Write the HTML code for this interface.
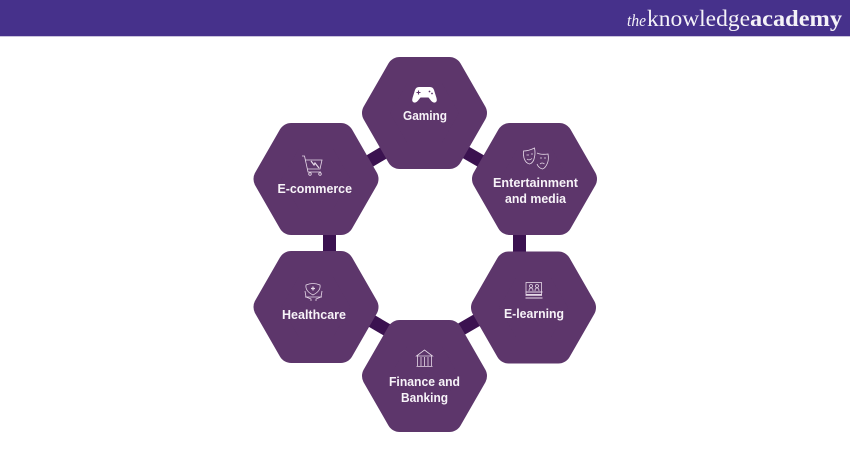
<!DOCTYPE html>
<html>
<head>
<meta charset="utf-8">
<style>
html,body{margin:0;padding:0;background:#fff;width:850px;height:450px;overflow:hidden}
svg{display:block}
.t{font-family:"Liberation Sans",sans-serif;font-weight:700;font-size:12.5px;fill:#f7f3f8}
.l{font-family:"Liberation Serif",serif;fill:#f4f2f8}
.i{fill:none;stroke:#e6d9e8;stroke-width:.8}
</style>
</head>
<body>
<svg width="850" height="450" viewBox="0 0 850 450" xmlns="http://www.w3.org/2000/svg">
<defs>
<polygon id="hex" points="-49.5,0 -24.8,-43 24.8,-43 49.5,0 24.8,43 -24.8,43" fill="#5d366b" stroke="#5d366b" stroke-width="26" stroke-linejoin="round"/>
</defs>
<rect x="0" y="0" width="850" height="36" fill="#46318b"/>
<rect x="0" y="36" width="850" height="1" fill="#c9c3dc"/>
<text class="l" x="627" y="26" font-size="17" font-style="italic" textLength="19" lengthAdjust="spacingAndGlyphs">the</text>
<text class="l" x="647" y="26" font-size="23" textLength="103" lengthAdjust="spacingAndGlyphs">knowledge</text>
<text class="l" x="750" y="26" font-size="23" font-weight="700" textLength="92" lengthAdjust="spacingAndGlyphs">academy</text>

<g stroke="#3b1250" stroke-width="13">
<line x1="460" y1="149" x2="486" y2="164"/>
<line x1="363" y1="165" x2="390" y2="149"/>
<line x1="329.500" y1="230" x2="329.500" y2="255"/>
<line x1="519.500" y1="230" x2="519.500" y2="256"/>
<line x1="365" y1="317" x2="394" y2="334"/>
<line x1="453" y1="334" x2="484" y2="316"/>
</g>

<use href="#hex" x="424.500" y="113"/>
<use href="#hex" x="316" y="179"/>
<use href="#hex" x="534.500" y="179"/>
<use href="#hex" x="316" y="307"/>
<use href="#hex" x="533.500" y="307.500"/>
<use href="#hex" x="424.500" y="376"/>

<text class="t" x="403" y="120" textLength="44" lengthAdjust="spacingAndGlyphs">Gaming</text>
<text class="t" x="277.500" y="193" textLength="74.500" lengthAdjust="spacingAndGlyphs">E-commerce</text>
<text class="t" x="493" y="187" textLength="85" lengthAdjust="spacingAndGlyphs">Entertainment</text>
<text class="t" x="505" y="203" textLength="61" lengthAdjust="spacingAndGlyphs">and media</text>
<text class="t" x="282" y="319" textLength="64" lengthAdjust="spacingAndGlyphs">Healthcare</text>
<text class="t" x="504" y="318" textLength="60" lengthAdjust="spacingAndGlyphs">E-learning</text>
<text class="t" x="389" y="386" textLength="71" lengthAdjust="spacingAndGlyphs">Finance and</text>
<text class="t" x="401" y="402" textLength="47" lengthAdjust="spacingAndGlyphs">Banking</text>

<!-- gamepad -->
<path d="M419 87h11q3 0 4 3l2.500 8q1 4-1.500 4.500t-4.500-2.500l-2-2.500h-8l-2 2.500q-2 3-4.500 2.500t-1.500-4.500l2.500-8q1-3 4-3z" fill="#fff"/>
<path d="M418.500 90.500v4M416.500 92.500h4" stroke="#5d366b" stroke-width="1.100"/>
<circle cx="429.500" cy="91.500" r=".9" fill="#5d366b"/><circle cx="432" cy="93.500" r=".9" fill="#5d366b"/>

<!-- cart -->
<g class="i">
<path d="M302 156h2.500l3.500 16h13"/>
<path d="M305 160h17l-2 9h-13"/>
<path d="M311 161l3 4 1-2 4 5" stroke-width="1.200"/>
<circle cx="310" cy="174" r="1.300"/><circle cx="320" cy="174" r="1.300"/>
</g>

<!-- masks -->
<g class="i">
<path d="M523.500 151q5 0 11-3q1 5 0 9q-1 6-5 7q-4-1-5.500-6q-.8-3-.5-7z"/>
<path d="M537 153q4 2 11 1q1 5-.5 9q-2 5-5 6q-4-1-5.500-5"/>
<path d="M526.500 155h2.500M531 154h2M527 159q2 2 5-.5M540 158h2M544 158h2M540 164q2-2 4.500 0"/>
</g>

<!-- healthcare -->
<g class="i">
<path d="M306 285q7-3 14 0q1 6-7 10q-8-4-7-10z"/>
<path d="M305 291l1 6 5 2v2M322 291l-1 6-5 2v2M305 297h17"/>
<path d="M313 286.500v4M311 288.500h4" stroke-width="1.200"/>
</g>

<!-- e-learning -->
<g class="i">
<rect x="526" y="282.500" width="15.500" height="13"/>
<circle cx="531" cy="286" r="1.500"/><circle cx="537" cy="286" r="1.500"/>
<path d="M529 291q0-3 2-3t2 3M535 291q0-3 2-3t2 3"/>
<path d="M525.500 292h17M526 294.500h16M525.500 298h17" stroke-width="1"/>
</g>

<!-- bank -->
<g class="i">
<path d="M416.500 356l8-6 8 6zM417.500 356v10M431.500 356v10M421 357v9M424.500 357v9M428 357v9M416.500 366.500h16"/>
</g>
</svg>
</body>
</html>
